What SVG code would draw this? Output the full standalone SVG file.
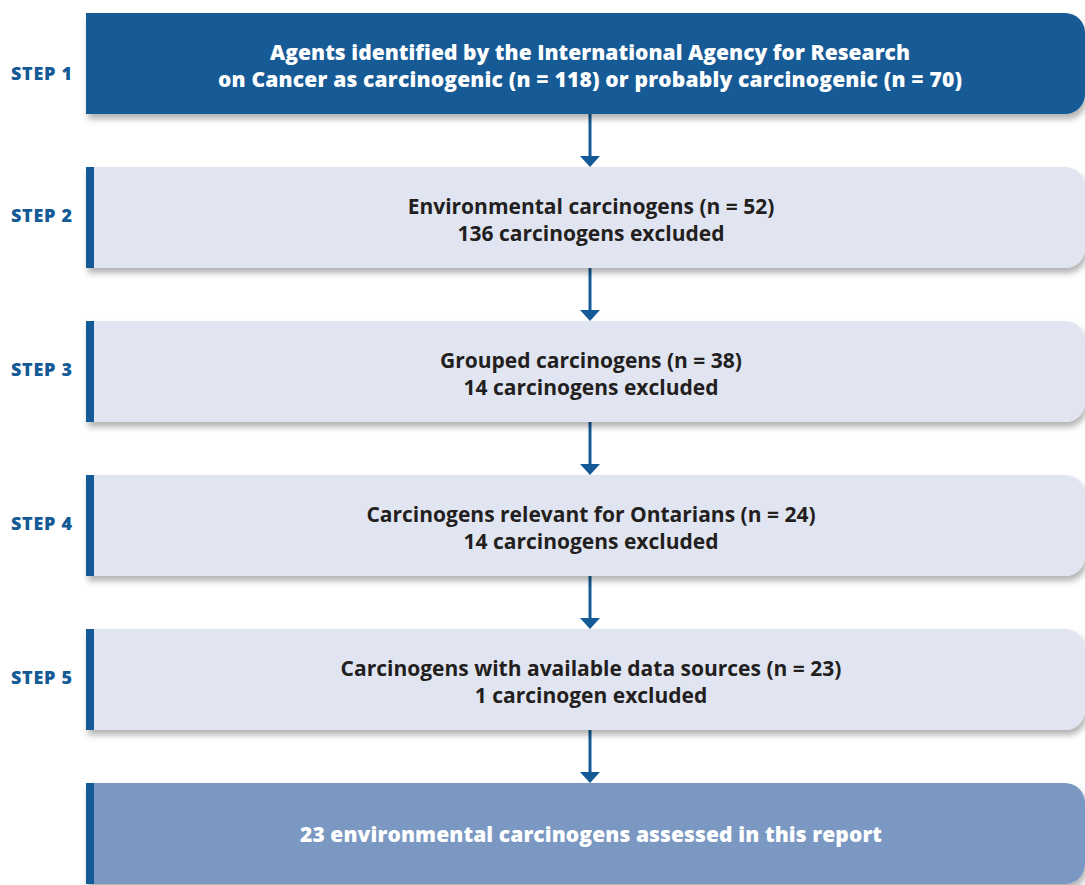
<svg xmlns="http://www.w3.org/2000/svg" width="1085" height="885" viewBox="0 0 1085 885">
<defs>
<filter id="sh" x="-5%" y="-20%" width="110%" height="150%">
<feDropShadow dx="2" dy="5" stdDeviation="3" flood-color="#000" flood-opacity="0.3"/>
</filter>
<style>
.step{font-family:"Open Sans","Liberation Sans",sans-serif;font-weight:800;font-size:18px;fill:#135a96}
.t{font-family:"Open Sans","Liberation Sans",sans-serif;font-weight:bold;font-size:21px;text-anchor:middle;fill:#231f20}
.tw{font-family:"Open Sans","Liberation Sans",sans-serif;font-weight:800;font-size:21px;text-anchor:middle;fill:#fff}
.lb{fill:#e1e5f1}
.bar{fill:#135a96}
.conn{stroke:#135a96;stroke-width:3;fill:none}
.head{fill:#135a96}
</style>
</defs>
<g id="connectors">
<line class="conn" x1="590" y1="114" x2="590" y2="157"/>
<polygon class="head" points="580,156 600,156 590,167"/>
<line class="conn" x1="590" y1="268" x2="590" y2="311"/>
<polygon class="head" points="580,310 600,310 590,321"/>
<line class="conn" x1="590" y1="422" x2="590" y2="465"/>
<polygon class="head" points="580,464 600,464 590,475"/>
<line class="conn" x1="590" y1="576" x2="590" y2="619"/>
<polygon class="head" points="580,618 600,618 590,629"/>
<line class="conn" x1="590" y1="730" x2="590" y2="773"/>
<polygon class="head" points="580,772 600,772 590,783"/>
</g>
<g id="step1">
<text class="step" x="11" y="80" textLength="61">STEP 1</text>
<path d="M86,13 H1065 A20,20 0 0 1 1085,33 V94 A20,20 0 0 1 1065,114 H86 Z" fill="#135a96" filter="url(#sh)"/>
<text class="tw" x="590" y="60" textLength="640">Agents identified by the International Agency for Research</text>
<text class="tw" x="590" y="87" textLength="744">on Cancer as carcinogenic (n = 118) or probably carcinogenic (n = 70)</text>
</g>
<g id="step2">
<text class="step" x="11" y="222" textLength="61">STEP 2</text>
<path class="lb" d="M86,167 H1065 A20,20 0 0 1 1085,187 V248 A20,20 0 0 1 1065,268 H86 Z" filter="url(#sh)"/>
<rect class="bar" x="86" y="167" width="8" height="101"/>
<text class="t" x="591" y="214">Environmental carcinogens (n = 52)</text>
<text class="t" x="591" y="241">136 carcinogens excluded</text>
</g>
<g id="step3">
<text class="step" x="11" y="376" textLength="61">STEP 3</text>
<path class="lb" d="M86,321 H1065 A20,20 0 0 1 1085,341 V402 A20,20 0 0 1 1065,422 H86 Z" filter="url(#sh)"/>
<rect class="bar" x="86" y="321" width="8" height="101"/>
<text class="t" x="591" y="368">Grouped carcinogens (n = 38)</text>
<text class="t" x="591" y="395">14 carcinogens excluded</text>
</g>
<g id="step4">
<text class="step" x="11" y="530" textLength="61">STEP 4</text>
<path class="lb" d="M86,475 H1065 A20,20 0 0 1 1085,495 V556 A20,20 0 0 1 1065,576 H86 Z" filter="url(#sh)"/>
<rect class="bar" x="86" y="475" width="8" height="101"/>
<text class="t" x="591" y="522">Carcinogens relevant for Ontarians (n = 24)</text>
<text class="t" x="591" y="549">14 carcinogens excluded</text>
</g>
<g id="step5">
<text class="step" x="11" y="684" textLength="61">STEP 5</text>
<path class="lb" d="M86,629 H1065 A20,20 0 0 1 1085,649 V710 A20,20 0 0 1 1065,730 H86 Z" filter="url(#sh)"/>
<rect class="bar" x="86" y="629" width="8" height="101"/>
<text class="t" x="591" y="676">Carcinogens with available data sources (n = 23)</text>
<text class="t" x="591" y="703">1 carcinogen excluded</text>
</g>
<g id="final">
<path d="M86,783 H1065 A20,20 0 0 1 1085,803 V864 A20,20 0 0 1 1065,884 H86 Z" fill="#7a98c2" filter="url(#sh)"/>
<rect class="bar" x="86" y="783" width="8" height="101"/>
<text class="tw" x="591" y="842" textLength="582">23 environmental carcinogens assessed in this report</text>
</g>
</svg>
